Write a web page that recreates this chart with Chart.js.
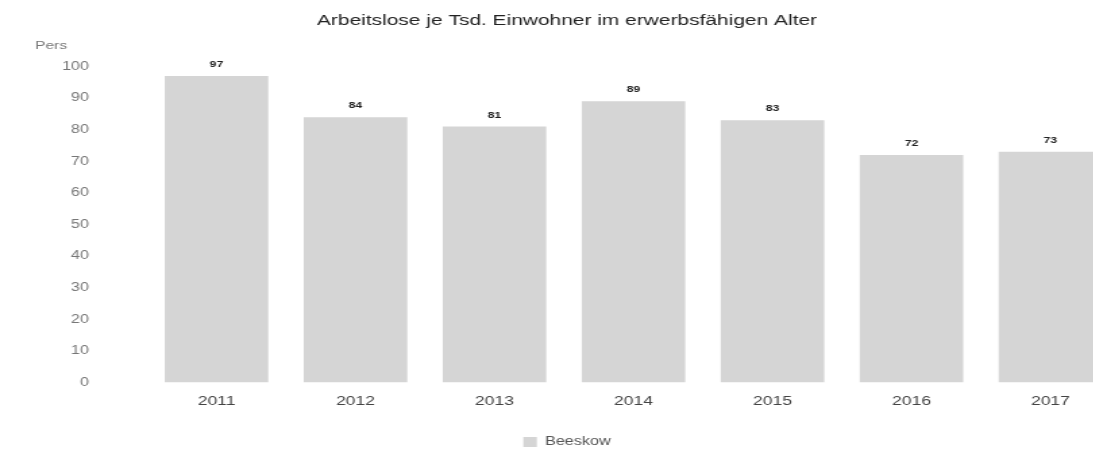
<!DOCTYPE html>
<html><head><meta charset="utf-8">
<script src="https://cdn.jsdelivr.net/npm/chart.js@4"></script>
<style>
html,body{margin:0;padding:0;background:#fff;overflow:hidden;width:1093px;height:456px}
#c{position:absolute;left:0;top:0;transform:scaleX(1.35);transform-origin:0 0}
</style></head><body>
<canvas id="c" width="840" height="456"></canvas>
<script>
const categories = ['2011','2012','2013','2014','2015','2016','2017'];
const seriesName = 'Beeskow';
const values = [97, 84, 81, 89, 83, 72, 73];
const yTicks = [0,10,20,30,40,50,60,70,80,90,100];
const titleText = 'Arbeitslose je Tsd. Einwohner im erwerbsfähigen Alter';
const unitText = 'Pers';
const FONT = '"Liberation Sans", Arial, sans-serif';

const valueLabels = {
  id:'valueLabels',
  afterDatasetsDraw(chart){
    const ctx = chart.ctx;
    const meta = chart.getDatasetMeta(0);
    ctx.save();
    ctx.font = 'bold 9px ' + FONT;
    ctx.fillStyle = '#222';
    ctx.textAlign = 'center';
    ctx.textBaseline = 'bottom';
    meta.data.forEach((el,i)=>{
      ctx.fillText(String(values[i]), el.x, el.y - 7);
    });
    ctx.fillStyle = '#777';
    ctx.font = '11.5px ' + FONT;
    ctx.textAlign = 'left';
    ctx.textBaseline = 'middle';
    ctx.fillText(unitText, 26, 46);
    ctx.restore();
  }
};

new Chart(document.getElementById('c'), {
  type:'bar',
  data:{labels:categories, datasets:[{label:seriesName, data:values,
    backgroundColor:'#d5d5d5', borderWidth:0,
    categoryPercentage:0.745, barPercentage:1}]},
  options:{
    responsive:false, animation:false,
    layout:{padding:{left:10.4,right:10.4,top:0,bottom:-2}},
    plugins:{
      title:{display:true, text:titleText, color:'#222',
        font:{family:FONT, size:15.5, weight:'normal'},
        padding:{top:11,bottom:37}},
      legend:{position:'bottom', labels:{color:'#555', boxWidth:10, boxHeight:10,
        font:{family:FONT, size:12}},
        onClick:null},
      tooltip:{enabled:false}
    },
    scales:{
      x:{grid:{display:false}, border:{display:false},
        afterFit(s){ s.height = s.height + 14; },
        ticks:{color:'#444', font:{family:FONT, size:13}, padding:3}},
      y:{min:0,max:100, grid:{display:false}, border:{display:false},
        afterBuildTicks(s){ s.ticks = yTicks.map(v=>({value:v})); },
        afterFit(s){ s.width = 98.5; },
        ticks:{color:'#777', padding:35, font:{family:FONT, size:12}}}
    }
  },
  plugins:[valueLabels]
});
</script></body></html>
